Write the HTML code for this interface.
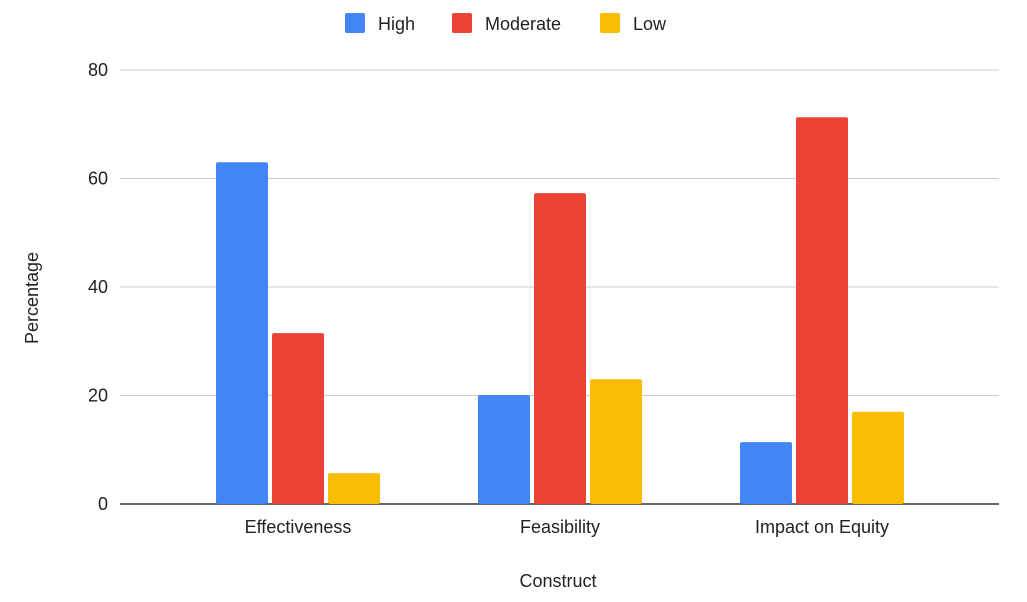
<!DOCTYPE html>
<html><head><meta charset="utf-8"><style>
body{margin:0;background:#fff;font-family:"Liberation Sans",Arial,sans-serif}
svg text{font-family:"Liberation Sans",Arial,sans-serif}
</style></head><body>
<svg id="chart" width="1027" height="597" xmlns="http://www.w3.org/2000/svg">
<rect width="1027" height="597" fill="#fff"/>
<g id="grid"></g><g id="bars"></g><g id="labels"></g>
<g>
<rect x="345" y="13" width="20" height="20" rx="2" fill="#4285f4"/>
<text x="378" y="30" font-size="18" fill="#222">High</text>
<rect x="452" y="13" width="20" height="20" rx="2" fill="#ea4335"/>
<text x="485" y="30" font-size="18" fill="#222">Moderate</text>
<rect x="600" y="13" width="20" height="20" rx="2" fill="#fbbc04"/>
<text x="633" y="30" font-size="18" fill="#222">Low</text>
</g>
<text x="558" y="587" font-size="18" text-anchor="middle" fill="#222">Construct</text>
<text transform="translate(38,298) rotate(-90)" font-size="18" text-anchor="middle" fill="#222">Percentage</text>
</svg>
<script>
const categories=["Effectiveness","Feasibility","Impact on Equity"];
const seriesNames=["High","Moderate","Low"];
const high=[63.0,20.1,11.4];
const moderate=[31.5,57.3,71.3];
const low=[5.7,23.0,17.0];
const yTicks=[0,20,40,60,80];
const colors=["#4285f4","#ea4335","#fbbc04"];
const ns="http://www.w3.org/2000/svg";
const y=v=>504-v*(434/80);
const cx=i=>298+i*262;
const grid=document.getElementById('grid'),bars=document.getElementById('bars'),labels=document.getElementById('labels');
function mk(tag,attrs,parent){const e=document.createElementNS(ns,tag);for(const k in attrs)e.setAttribute(k,attrs[k]);parent.appendChild(e);return e;}
yTicks.forEach(t=>{
 const l=mk('line',{x1:120,x2:999,y1:y(t),y2:y(t),stroke:t===0?'#333':'#ccc','stroke-width':t===0?1.5:1},grid);
 
 
 const tx=mk('text',{x:108,y:y(t)+6,'font-size':18,'text-anchor':'end',fill:'#222'},labels);
 tx.textContent=t;
 
 
});
const data=[high,moderate,low];
categories.forEach((c,i)=>{
 data.forEach((s,j)=>{
  const x=cx(i)-82+j*56;
  const r=mk('rect',{x:x,y:y(s[i]),width:52,height:y(0)-y(s[i]),fill:colors[j],rx:2},bars);
  
  
 });
 const tx=mk('text',{x:cx(i),y:533,'font-size':18,'text-anchor':'middle',fill:'#222'},labels);
 tx.textContent=c;
 
 
});
</script>
</body></html>
